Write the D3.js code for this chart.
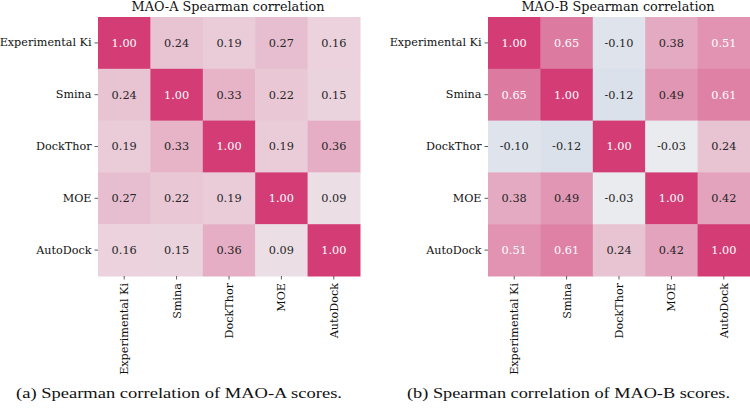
<!DOCTYPE html>
<html>
<head>
<meta charset="utf-8">
<script src="https://cdn.jsdelivr.net/npm/d3@7"></script>
<style>
  body { margin: 0; background: #fff; }
  svg { display: block; }
</style>
</head>
<body>
<div id="chart"></div>
<script>
// categories shared by both panels
var methods = ["Experimental Ki", "Smina", "DockThor", "MOE", "AutoDock"];

// MAO-A correlation matrix
var maoA = [
    [1.00, 0.24, 0.19, 0.27, 0.16],
    [0.24, 1.00, 0.33, 0.22, 0.15],
    [0.19, 0.33, 1.00, 0.19, 0.36],
    [0.27, 0.22, 0.19, 1.00, 0.09],
    [0.16, 0.15, 0.36, 0.09, 1.00]
];

// MAO-B correlation matrix
var maoB = [
    [1.00, 0.65, -0.10, 0.38, 0.51],
    [0.65, 1.00, -0.12, 0.49, 0.61],
    [-0.10, -0.12, 1.00, -0.03, 0.24],
    [0.38, 0.49, -0.03, 1.00, 0.42],
    [0.51, 0.61, 0.24, 0.42, 1.00]
];

var titles = ["MAO-A Spearman correlation", "MAO-B Spearman correlation"];
var captions = ["(a) Spearman correlation of MAO-A scores.", "(b) Spearman correlation of MAO-B scores."];

var svgWidth = 750;
var svgHeight = 408;

var svg = d3.select("#chart")
    .append("svg")
    .attr("width", svgWidth)
    .attr("height", svgHeight);

// diverging colour map, centred on 0
var color = d3.scaleLinear()
    .domain([-1, 0, 1])
    .range(["#4681c8", "#efeef0", "#d33c75"]);

var serif = "'DejaVu Serif', serif";

function drawHeatmap(matrix, title, caption, left, captionX, captionW) {
    var x = d3.scaleBand().domain(methods).range([left, left + 262]);
    var y = d3.scaleBand().domain(methods).range([17, 276]);

    var cells = [];
    matrix.forEach(function (row, i) {
        row.forEach(function (v, j) {
            cells.push({ row: methods[i], col: methods[j], value: v });
        });
    });

    var g = svg.append("g");

    g.selectAll("rect")
        .data(cells)
        .enter()
        .append("rect")
        .attr("x", d => x(d.col))
        .attr("y", d => y(d.row))
        .attr("width", x.bandwidth() + 0.5)
        .attr("height", y.bandwidth() + 0.5)
        .attr("fill", d => color(d.value));

    g.selectAll("text.cell")
        .data(cells)
        .enter()
        .append("text")
        .attr("class", "cell")
        .attr("x", d => x(d.col) + x.bandwidth() / 2)
        .attr("y", d => y(d.row) + y.bandwidth() / 2)
        .attr("dy", "0.35em")
        .attr("text-anchor", "middle")
        .style("font-family", serif)
        .style("font-size", "11.3px")
        .attr("fill", d => d.value > 0.5 ? "#ffffff" : "#262626")
        .text(d => d.value.toFixed(2));

    // y axis (left)
    var yAxis = g.append("g")
        .attr("transform", `translate(${left},0)`)
        .call(d3.axisLeft(y).tickSize(3.5).tickPadding(3));
    // x axis (bottom)
    var xAxis = g.append("g")
        .attr("transform", "translate(0,276)")
        .call(d3.axisBottom(x).tickSize(3.5).tickPadding(3));

    [xAxis, yAxis].forEach(function (ax) {
        ax.select(".domain").remove();
        ax.selectAll("line").attr("stroke", "#333").attr("stroke-width", 0.8);
        ax.selectAll("text")
            .style("font-family", serif)
            .style("font-size", "11.2px")
            .attr("fill", "#111");
    });

    xAxis.selectAll("text")
        .attr("transform", "rotate(-90)")
        .attr("text-anchor", "end")
        .attr("x", -7)
        .attr("y", 0)
        .attr("dy", "0.35em");

    g.append("text")
        .attr("x", left + 130)
        .attr("y", 10.5)
        .attr("text-anchor", "middle")
        .style("font-family", serif)
        .style("font-size", "12.8px")
        .attr("fill", "#111")
        .text(title);

    g.append("text")
        .attr("x", captionX)
        .attr("y", 398)
        .attr("textLength", captionW)
        .attr("lengthAdjust", "spacingAndGlyphs")
        .style("font-family", "'Liberation Serif', serif")
        .style("font-size", "15.5px")
        .attr("fill", "#111")
        .text(caption);
}

drawHeatmap(maoA, titles[0], captions[0], 98, 16, 326);
drawHeatmap(maoB, titles[1], captions[1], 488, 407, 323);
</script>
</body>
</html>
